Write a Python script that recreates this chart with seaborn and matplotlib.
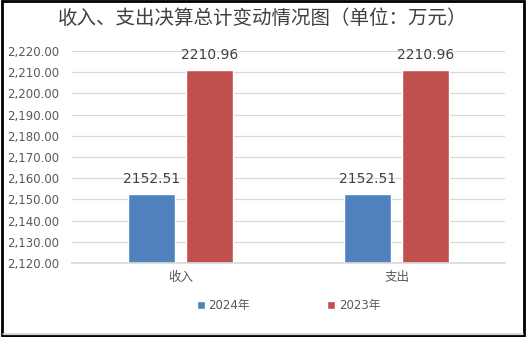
import matplotlib
matplotlib.use("Agg")
import matplotlib.pyplot as plt
import seaborn as sns
import pandas as pd
from matplotlib.patches import Rectangle
from matplotlib.ticker import FuncFormatter

categories = ["收入", "支出"]
series_names = ["2024年", "2023年"]
values_2024 = [2152.51, 2152.51]
values_2023 = [2210.96, 2210.96]
colors = ["#4F81BD", "#C0504D"]
title = "收入、支出决算总计变动情况图（单位：万元）"

sns.set_theme(style="white")
plt.rcParams['font.family'] = ['DejaVu Sans', 'Noto Sans CJK SC']

df = pd.DataFrame({
    "cat": categories * 2,
    "series": [series_names[0]] * 2 + [series_names[1]] * 2,
    "val": values_2024 + values_2023,
})

fig = plt.figure(figsize=(5.26, 3.37), dpi=100)
ax = fig.add_axes([0.137, 0.2196, 0.823, 0.629])
sns.barplot(data=df, x="cat", y="val", hue="series", palette=colors,
            width=0.537, gap=0.19, ax=ax, legend=True, saturation=1)
ax.set_ylim(2120, 2220)
ax.set_yticks(range(2120, 2221, 10))
ax.yaxis.set_major_formatter(FuncFormatter(lambda v, p: f"{v:,.2f}"))
ax.grid(axis="y", color="#D9D9D9", linewidth=0.9)
ax.set_axisbelow(True)
for s in ["top", "right", "left"]:
    ax.spines[s].set_visible(False)
ax.spines["bottom"].set_color("#D9D9D9")
ax.tick_params(axis="y", labelsize=8.5, colors="#595959", length=0, pad=9)
ax.tick_params(axis="x", labelsize=9, colors="#595959", length=0, pad=6)
ax.set_xlabel("")
ax.set_ylabel("")
for cont in ax.containers:
    ax.bar_label(cont, labels=[f"{v:.2f}" for v in cont.datavalues],
                 fontsize=10, color="#404040", padding=6)

leg = ax.legend(loc="upper center", bbox_to_anchor=(0.5, -0.12), ncol=2,
                frameon=False, fontsize=8.5, handlelength=0.7, handleheight=0.7,
                columnspacing=6.5, handletextpad=0.3)
for t in leg.get_texts():
    t.set_color("#595959")

fig.text(0.5, 0.945, title, ha="center", va="center", fontsize=14, color="#404040",
         family=['Noto Sans CJK SC', 'DejaVu Sans'])

fig.patches.append(Rectangle((0.003, 0.003), 0.994, 0.994, transform=fig.transFigure,
                             fill=False, edgecolor="black", linewidth=2))
fig.add_artist(plt.Line2D([0.005, 0.995], [0.009, 0.009], color="#D0D0D0", lw=1.2,
                          transform=fig.transFigure))
fig.savefig("out.png", dpi=100)
